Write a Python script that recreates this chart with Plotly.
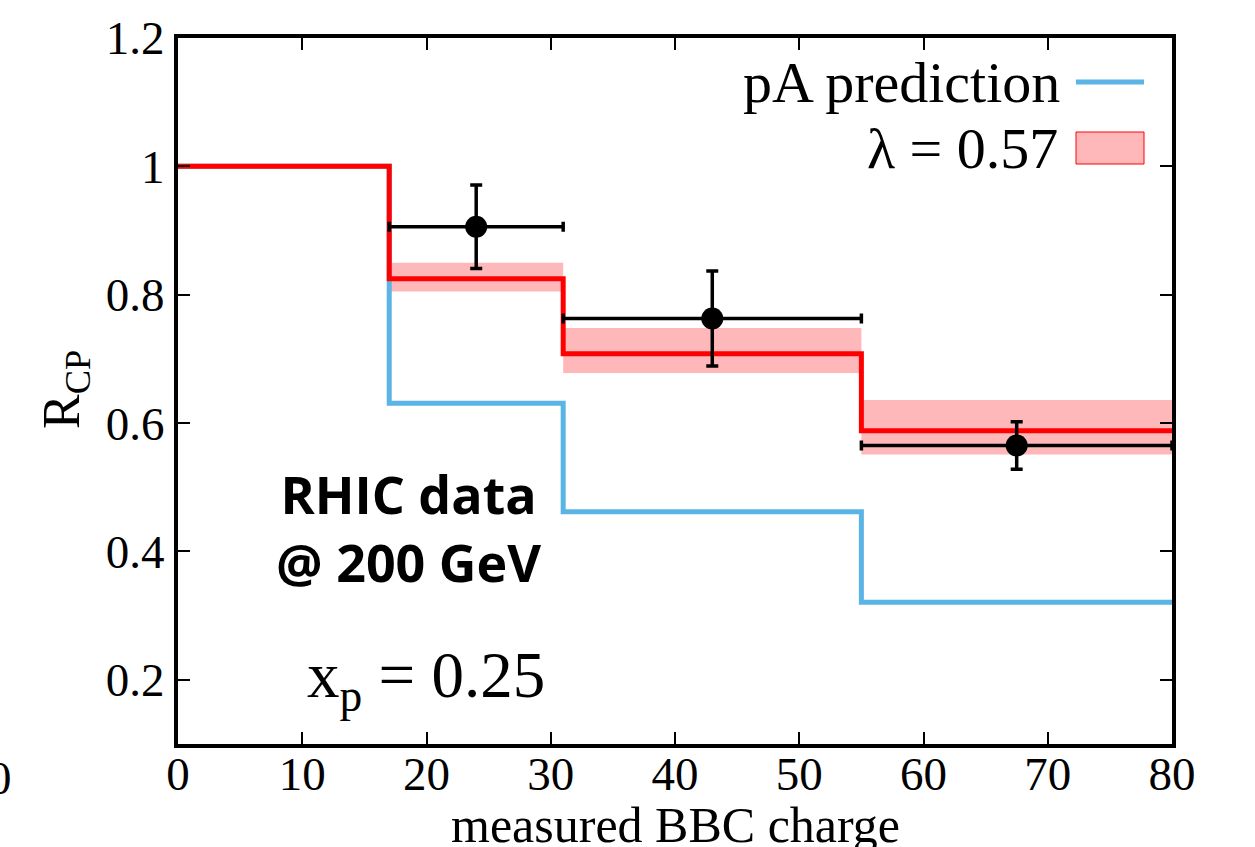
import plotly.graph_objects as go

# ---- data ----
bin_edges = [0, 17, 31, 55, 80]
pA_prediction = [1.0, 0.631, 0.462, 0.321]
lambda_fit = [1.0, 0.825, 0.708, 0.588]
band_bins_lo = [17, 31, 55]
band_bins_hi = [31, 55, 80]
band_low = [0.805, 0.678, 0.551]
band_high = [0.850, 0.748, 0.636]

data_x = [24.0, 43.0, 67.5]
data_xlo = [17, 31, 55]
data_xhi = [31, 55, 80]
data_y = [0.906, 0.763, 0.565]
data_yhi = [0.971, 0.837, 0.602]
data_ylo = [0.841, 0.689, 0.528]

x_ticks = [0, 10, 20, 30, 40, 50, 60, 70, 80]
y_ticks = [0.2, 0.4, 0.6, 0.8, 1.0, 1.2]
y_tick_labels = ["0.2", "0.4", "0.6", "0.8", "1", "1.2"]

RED = "#ff0000"
BLUE = "#5ab4e6"
BAND = "#ffb8ba"
SERIF = "Liberation Serif"

fig = go.Figure()

# bands
bx, by = [], []
for lo, hi, yl, yh in zip(band_bins_lo, band_bins_hi, band_low, band_high):
    bx += [lo, hi, hi, lo, lo, None]
    by += [yl, yl, yh, yh, yl, None]
fig.add_trace(go.Scatter(x=bx, y=by, fill="toself", fillcolor=BAND,
                         line=dict(width=0, color=BAND), mode="lines",
                         hoverinfo="skip", showlegend=False))

# step lines
step_x = bin_edges
fig.add_trace(go.Scatter(x=step_x, y=pA_prediction + [pA_prediction[-1]],
                         mode="lines", line=dict(color=BLUE, width=5, shape="hv"),
                         showlegend=False))
fig.add_trace(go.Scatter(x=step_x, y=lambda_fit + [lambda_fit[-1]],
                         mode="lines", line=dict(color=RED, width=5, shape="hv"),
                         showlegend=False))

# data points
fig.add_trace(go.Scatter(
    x=data_x, y=data_y, mode="markers",
    marker=dict(color="black", size=22),
    error_x=dict(type="data", symmetric=False,
                 array=[h - x for h, x in zip(data_xhi, data_x)],
                 arrayminus=[x - l for l, x in zip(data_xlo, data_x)],
                 color="black", thickness=3.5, width=5),
    error_y=dict(type="data", symmetric=False,
                 array=[h - y for h, y in zip(data_yhi, data_y)],
                 arrayminus=[y - l for l, y in zip(data_ylo, data_y)],
                 color="black", thickness=3.5, width=6),
    showlegend=False))

L, R, T, B = 178, 83, 38, 103
W, H = 1255, 847
PW, PH = W - L - R, H - T - B

def px(x):
    return (x - L) / PW

def py(y):
    return (H - B - y) / PH

fig.update_layout(
    width=W, height=H,
    margin=dict(l=L, r=R, t=T, b=B),
    paper_bgcolor="white", plot_bgcolor="white",
    showlegend=False,
    font=dict(family=SERIF, color="black"),
    xaxis=dict(range=[0, 80], tickvals=x_ticks, ticks="inside", ticklen=12,
               tickwidth=2, tickcolor="black", showline=True, linewidth=4,
               linecolor="black", mirror="ticks", showgrid=False, zeroline=False,
               ticklabelstandoff=-14,
               tickfont=dict(family=SERIF, size=47, color="black")),
    yaxis=dict(range=[0.1, 1.2], tickvals=y_ticks, ticktext=y_tick_labels,
               ticks="inside", ticklen=12, tickwidth=2, tickcolor="black",
               showline=True, linewidth=4, linecolor="black", mirror="ticks",
               showgrid=False, zeroline=False,
               tickfont=dict(family=SERIF, size=47, color="black")),
)

ann = []
# axis titles
ann.append(dict(x=0.5, y=py(825), xref="paper", yref="paper", text="measured BBC charge",
                showarrow=False, font=dict(family=SERIF, size=50, color="black"),
                xanchor="center", yanchor="middle"))
ann.append(dict(x=px(65), y=py(390), xref="paper", yref="paper", text="R<sub>CP</sub>",
                showarrow=False, textangle=-90, font=dict(family=SERIF, size=52, color="black"),
                xanchor="center", yanchor="middle"))
# legend text
ann.append(dict(x=px(1062), y=py(83), xref="paper", yref="paper", text="pA prediction",
                showarrow=False, font=dict(family=SERIF, size=58, color="black"),
                xanchor="right", yanchor="middle"))
ann.append(dict(x=px(1060), y=py(148), xref="paper", yref="paper", text="λ = 0.57",
                showarrow=False, font=dict(family=SERIF, size=58, color="black"),
                xanchor="right", yanchor="middle"))
# in-plot texts
ann.append(dict(x=px(408), y=py(527), xref="paper", yref="paper",
                text="<b>RHIC data</b><br><b>@ 200 GeV</b>",
                showarrow=False, font=dict(family="Open Sans", size=52, color="black"),
                xanchor="center", yanchor="middle", align="center"))
ann.append(dict(x=px(305), y=py(680), xref="paper", yref="paper",
                text="x<sub>p</sub> = 0.25",
                showarrow=False, font=dict(family=SERIF, size=65, color="black"),
                xanchor="left", yanchor="middle"))
# clipped label from neighbouring panel
ann.append(dict(x=px(0), y=py(778), xref="paper", yref="paper", text="0",
                showarrow=False, font=dict(family=SERIF, size=47, color="black"),
                xanchor="center", yanchor="middle"))
fig.update_layout(annotations=ann)

# legend samples
fig.add_shape(type="line", xref="paper", yref="paper", x0=px(1076), x1=px(1144),
              y0=py(82), y1=py(82), line=dict(color=BLUE, width=5))
fig.add_shape(type="rect", xref="paper", yref="paper", x0=px(1076), x1=px(1144),
              y0=py(132), y1=py(164), fillcolor=BAND, line=dict(color=RED, width=1))

fig.write_html("out.html")
